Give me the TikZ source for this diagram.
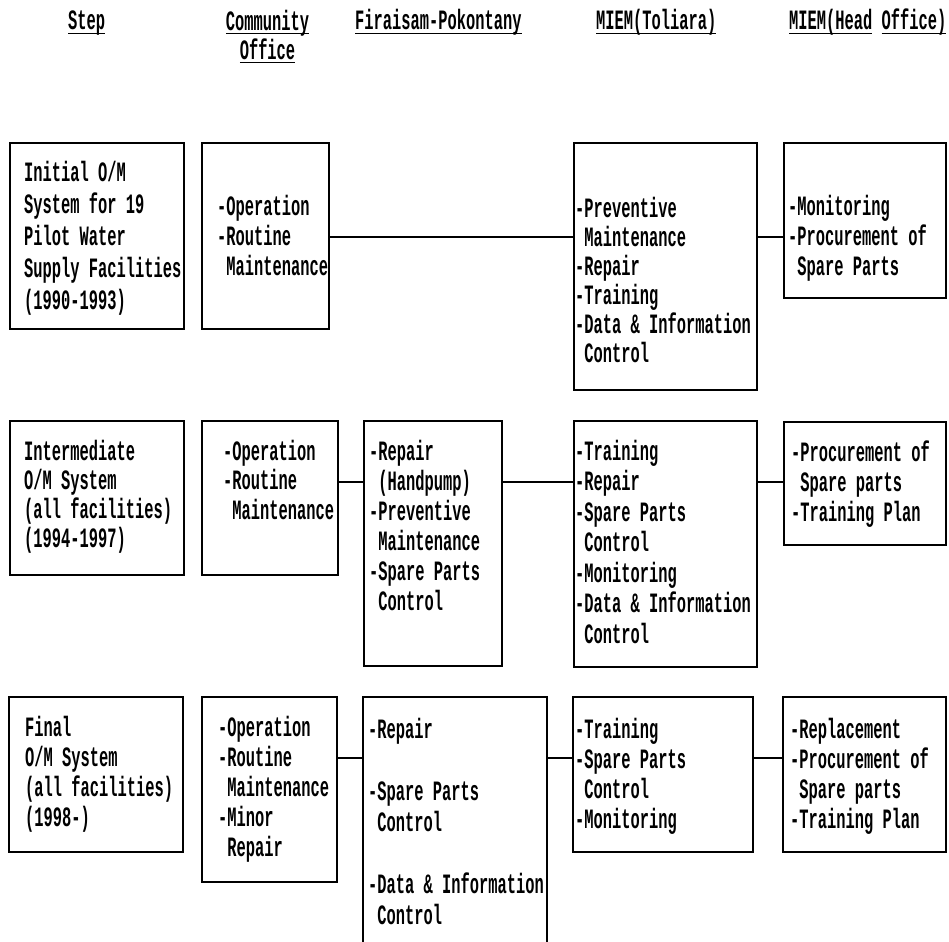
\documentclass[tikz,border=0pt]{standalone}
\usepackage{fontspec}
\newfontfamily\dm{Liberation Mono}[FakeStretch=0.55, UprightFont={* Bold}]
\newcommand\st{\rule{0pt}{20pt}}
\newcommand\ind{\hphantom{-}}
\newcommand\myul[1]{\setbox0\hbox{#1}\rlap{\rule[-4pt]{\wd0}{1.3pt}}\box0\relax}
\tikzset{
  box/.style={draw, line width=1.5pt, inner sep=0pt, outer sep=0pt, anchor=north west},
  txt/.style={anchor=north west, inner sep=0pt, align=left, font=\dm\fontsize{28}{#1}\selectfont},
  txt/.default=30,
  hd/.style={anchor=base west, inner sep=0pt, font=\dm\fontsize{28}{30}\selectfont},
  link/.style={line width=1.2pt}
}
\begin{document}
\begin{tikzpicture}[x=1pt, y=-1pt]
\useasboundingbox[fill=white] (0,0) rectangle (949,941);
% headers
\node[hd] (hstep) at (68,30) {\myul{Step}};
\node[anchor=north, inner sep=0pt, align=center, font=\dm\fontsize{28}{29}\selectfont] (hcom) at (267.5,10) {\st\myul{Community}\\\myul{Office}};
\node[hd] (hfir) at (355,30) {\myul{Firaisam-Pokontany}};
\node[hd] (htol) at (596,30) {\myul{MIEM(Toliara)}};
\node[hd] (hhead) at (789,30) {\myul{MIEM(Head}\ \myul{Office)}};
% row 1
\node[box, minimum width=174pt, minimum height=186pt] (s1) at (10,143) {};
\node[box, minimum width=127pt, minimum height=186pt] (c1) at (202,143) {};
\node[box, minimum width=183pt, minimum height=247pt] (t1) at (574,143) {};
\node[box, minimum width=162pt, minimum height=155pt] (h1) at (784,143) {};
\node[txt=32] (s1t) at (24,161) {\st Initial O/M\\System for 19\\Pilot Water\\Supply Facilities\\(1990-1993)};
\node[txt=30] (c1t) at (217,195) {\st-Operation\\-Routine\\\ind Maintenance};
\node[txt=29] (t1t) at (575,197) {\st-Preventive\\\ind Maintenance\\-Repair\\-Training\\-Data \& Information\\\ind Control};
\node[txt=30] (h1t) at (788,195) {\st-Monitoring\\-Procurement of\\\ind Spare Parts};
\coordinate (r1) at (0,237);
\draw[link] (c1.east |- r1) -- (t1.west |- r1);
\draw[link] (t1.east |- r1) -- (h1.west |- r1);
% row 2
\node[box, minimum width=174pt, minimum height=154pt] (s2) at (10,421) {};
\node[box, minimum width=136pt, minimum height=154pt] (c2) at (202,421) {};
\node[box, minimum width=138pt, minimum height=245pt] (f2) at (364,421) {};
\node[box, minimum width=183pt, minimum height=246pt] (t2) at (574,421) {};
\node[box, minimum width=162pt, minimum height=123pt] (h2) at (784,422) {};
\node[txt=29] (s2t) at (24,440) {\st Intermediate\\O/M System\\(all facilities)\\(1994-1997)};
\node[txt=29.5] (c2t) at (223,440) {\st-Operation\\-Routine\\\ind Maintenance};
\node[txt=30] (f2t) at (369,440) {\st-Repair\\\ind(Handpump)\\-Preventive\\\ind Maintenance\\-Spare Parts\\\ind Control};
\node[txt=30.5] (t2t) at (575,440) {\st-Training\\-Repair\\-Spare Parts\\\ind Control\\-Monitoring\\-Data \& Information\\\ind Control};
\node[txt=30] (h2t) at (791,441) {\st-Procurement of\\\ind Spare parts\\-Training Plan};
\coordinate (r2) at (0,482);
\draw[link] (c2.east |- r2) -- (f2.west |- r2);
\draw[link] (f2.east |- r2) -- (t2.west |- r2);
\draw[link] (t2.east |- r2) -- (h2.west |- r2);
% row 3
\node[box, minimum width=174pt, minimum height=155pt] (s3) at (9,697) {};
\node[box, minimum width=135pt, minimum height=185pt] (c3) at (202,697) {};
\node[box, draw=none, minimum width=184pt, minimum height=250pt] (f3) at (363,697) {};
\draw[line width=1.5pt] (f3.south west) |- (f3.north east) -- (f3.south east);
\node[box, minimum width=180pt, minimum height=155pt] (t3) at (573,697) {};
\node[box, minimum width=163pt, minimum height=155pt] (h3) at (783,697) {};
\node[txt=30] (s3t) at (25,716) {\st Final\\O/M System\\(all facilities)\\(1998-)};
\node[txt=30] (c3t) at (218,716) {\st-Operation\\-Routine\\\ind Maintenance\\-Minor\\\ind Repair};
\node[txt=31] (f3t) at (368,718) {\st-Repair\\\st\\-Spare Parts\\\ind Control\\\st\\-Data \& Information\\\ind Control};
\node[txt=30] (t3t) at (575,718) {\st-Training\\-Spare Parts\\\ind Control\\-Monitoring};
\node[txt=30] (h3t) at (790,718) {\st-Replacement\\-Procurement of\\\ind Spare parts\\-Training Plan};
\coordinate (r3) at (0,758);
\draw[link] (c3.east |- r3) -- (f3.west |- r3);
\draw[link] (f3.east |- r3) -- (t3.west |- r3);
\draw[link] (t3.east |- r3) -- (h3.west |- r3);
\end{tikzpicture}
\end{document}
